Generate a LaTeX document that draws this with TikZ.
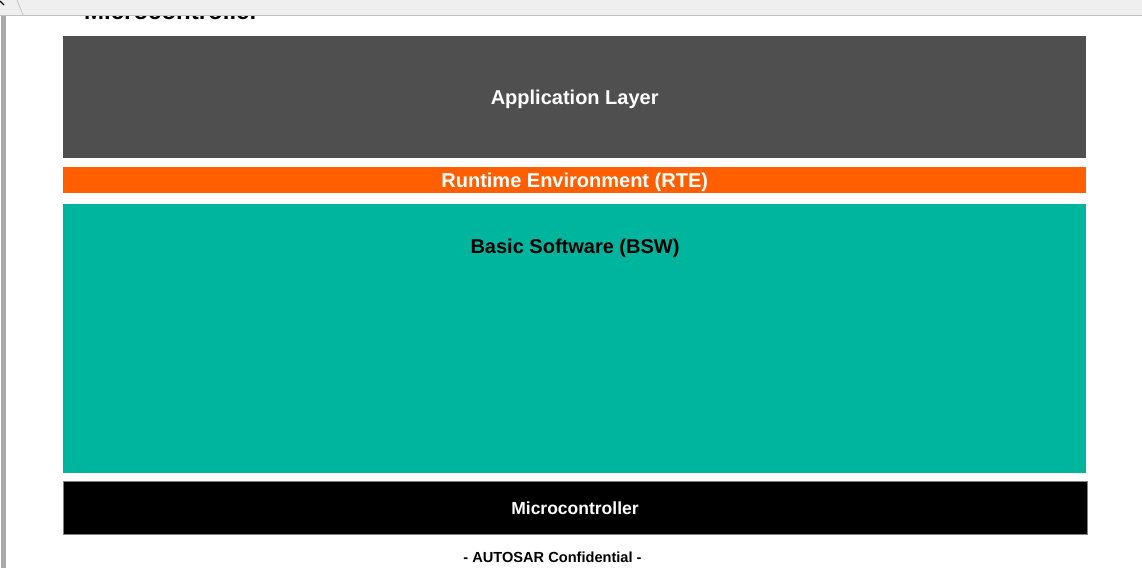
\documentclass[tikz,border=0pt]{standalone}
\usepackage{fontspec}
\setmainfont{Liberation Sans}
\definecolor{appgray}{RGB}{79,79,79}
\definecolor{rteorange}{RGB}{255,95,0}
\definecolor{bswteal}{RGB}{0,181,158}
\definecolor{barbg}{RGB}{239,239,239}
\definecolor{barline}{RGB}{192,192,192}
\definecolor{sidegray}{RGB}{170,170,170}
\begin{document}
\begin{tikzpicture}[x=1pt,y=-1pt,
  layer/.style={anchor=north west,inner sep=0pt,minimum width=1023pt,text height=14.3pt,text depth=0pt,font=\bfseries\fontsize{20}{24}\selectfont},
  lbl/.style={inner sep=0pt,text height=14.3pt,text depth=0pt,font=\bfseries\fontsize{20}{24}\selectfont}]
\useasboundingbox (0,0) rectangle (1142,568);
\fill[white] (0,0) rectangle (1142,568);
% cut-off heading behind the bar
\node[anchor=base west,inner sep=0pt,font=\bfseries\fontsize{24}{28}\selectfont] (head) at (84,19.5) {Microcontroller};
% browser chrome
\fill[barbg] (0,0) rectangle (1142,15);
\draw[barline,line width=1pt] (0,15) -- (1142,15);
\draw[barline,line width=0.8pt] (17,0) -- (23,15);
\draw[black,line width=1.2pt] (0,1) -- (4,5);
\fill[sidegray] (1,15.5) rectangle (5.5,568);
% layers
\node[layer,fill=appgray,text=white,minimum height=122pt] (app) at (63,36) {Application Layer};
\node[layer,fill=rteorange,text=white,minimum height=26pt] (rte) at (63,167) {Runtime Environment (RTE)};
\node[layer,fill=bswteal,minimum height=269pt] (bsw) at (63,204) {};
\node[lbl] (bswlabel) at (575,246) {Basic Software (BSW)};
\node[layer,fill=black,draw=gray,line width=1pt,text=white,minimum width=1024pt,minimum height=53pt,text height=12.5pt,font=\bfseries\fontsize{17.5}{21}\selectfont] (mcu) at (62.5,481) {Microcontroller};
\node[inner sep=0pt,text height=10.5pt,text depth=0pt,font=\bfseries\fontsize{14.6}{18}\selectfont] (conf) at (552.5,557) {- AUTOSAR Confidential -};
\end{tikzpicture}
\end{document}
